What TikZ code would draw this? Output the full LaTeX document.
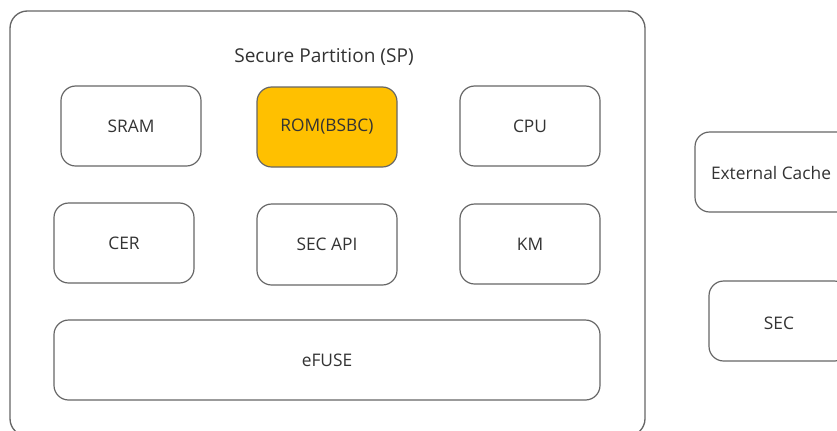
\documentclass[tikz,border=0pt]{standalone}
\usepackage{fontspec}
\setmainfont{Open Sans}
\begin{document}
\begin{tikzpicture}[x=0.75pt,y=-0.75pt,
  lbl/.style={font=\fontsize{13}{15}\selectfont, text=txtgray},
  box/.style={draw=boxgray, line width=0.9pt, rounded corners=11pt, inner sep=0pt, lbl, minimum width=105pt, minimum height=60pt},
  outerbox/.style={draw=boxgray, line width=1pt, rounded corners=13pt}]
\definecolor{boxgray}{HTML}{666666}
\definecolor{txtgray}{HTML}{333333}
\definecolor{romfill}{HTML}{FFC000}
\useasboundingbox (0,0) rectangle (837,430);
\begin{scope}
\clip (0,0) rectangle (837,430);
\draw[outerbox] (10,11) rectangle (645,436);
\node[box, minimum width=120pt] (ext) at (775,172) {};
\node[box] (sec) at (779,321) {};
\end{scope}
\node[lbl] (ecl) at (771,173) {External Cache};
\node[lbl] (secl) at (779,323) {SEC};
\node[lbl, font=\fontsize{14.3}{16}\selectfont] (title) at (324,57) {Secure Partition (SP)};
\node[box] (sram) at (131,126) {SRAM};
\node[box, fill=romfill] (rom) at (327,127) {ROM(BSBC)};
\node[box] (cpu) at (530,126) {CPU};
\node[box] (cer) at (124,243) {CER};
\node[box, minimum height=60.75pt] (secapi) at (327,244.5) {SEC API};
\node[box] (km) at (530,244) {KM};
\node[box, minimum width=409.5pt] (efuse) at (327,360) {eFUSE};
\end{tikzpicture}
\end{document}
